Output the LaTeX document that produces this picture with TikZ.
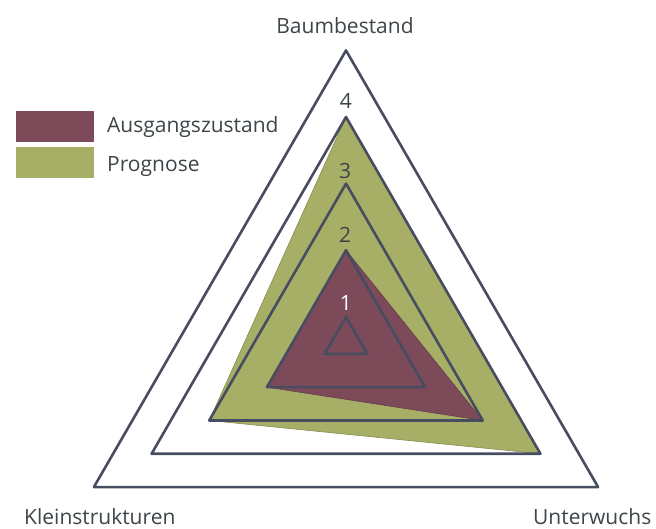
\documentclass[tikz,border=0pt]{standalone}
\usepackage{fontspec}
\setmainfont{Open Sans}
\usepackage{xcolor}
\usepackage{tikz}
\definecolor{gridline}{HTML}{474C60}
\definecolor{ausgang}{HTML}{7C4A59}
\definecolor{prognose}{HTML}{A7AF66}
\definecolor{labeltext}{HTML}{3D4548}

\begin{document}
\begin{tikzpicture}[x=1pt,y=1pt]
\tikzstyle{every node}+=[inner sep=0pt, text=labeltext, font=\fontsize{21}{25}\selectfont]
\tikzstyle{ring}=[gridline, line width=2.6pt, line join=round]
\useasboundingbox (0,0) rectangle (656,-528);
% Prognose
\fill [prognose, draw=prognose!80!black, line width=0.6pt] (346,-117) -- (540.42,-453.75) -- (209.26,-420.45) -- cycle;
% Ausgangszustand
\fill [ausgang, draw=ausgang!85!black, line width=0.6pt] (346,-250.2) -- (482.74,-420.45) -- (266.93,-387.15) -- cycle;
% rings 1 to 5
\draw [ring] (346,-317) -- (367.39,-353.85) -- (324.61,-353.85) -- cycle;
\draw [ring] (346,-250.2) -- (425.07,-387.15) -- (266.93,-387.15) -- cycle;
\draw [ring] (346,-183.6) -- (482.74,-420.45) -- (209.26,-420.45) -- cycle;
\draw [ring] (346,-117) -- (540.42,-453.75) -- (151.58,-453.75) -- cycle;
\draw [ring] (346,-50.4) -- (598.1,-487.05) -- (93.9,-487.05) -- cycle;
% scale
\node (v4) at (346,-101) {4};
\node (v3) at (345,-170.5) {3};
\node (v2) at (345,-235) {2};
\node [text=white] (v1) at (346,-303) {1};
% axes
\node [anchor=base] (baum) at (345,-33.3) {Baumbestand};
\node [anchor=base west, text depth=0pt] (klein) at (24,-524) {Kleinstrukturen};
\node [anchor=base west, text depth=0pt] (unter) at (533,-524) {Unterwuchs};
% legend
\fill [ausgang] (16,-111) rectangle (94,-141.7);
\fill [prognose] (16,-147) rectangle (94,-177.7);
\node [anchor=base west] (ausgangtext) at (107,-132) {Ausgangszustand};
\node [anchor=base west] (prognosetext) at (107,-171) {Prognose};
\end{tikzpicture}
\end{document}
